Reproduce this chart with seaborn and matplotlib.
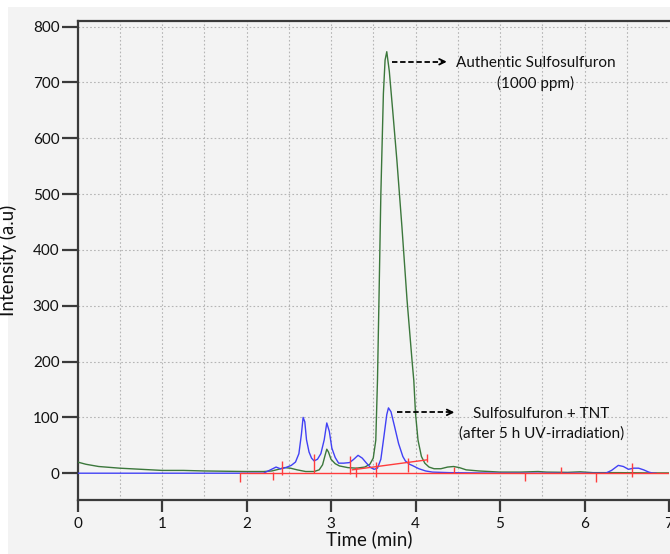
import matplotlib
matplotlib.use("Agg")
import matplotlib.pyplot as plt
from matplotlib.patches import Rectangle
import numpy as np
import pandas as pd
import seaborn as sns

# Chromatogram of authentic sulfosulfuron (green)
auth_time = [0.00, 0.10, 0.25, 0.50, 0.75, 1.00, 1.25, 1.50, 1.75, 2.00, 2.20, 2.30,
             2.38, 2.45, 2.52, 2.60, 2.70, 2.80, 2.86, 2.90, 2.93, 2.95, 2.97, 3.00,
             3.05, 3.10, 3.20, 3.30, 3.40, 3.46, 3.50, 3.53, 3.55, 3.57, 3.59, 3.62,
             3.64, 3.66, 3.69, 3.73, 3.78, 3.84, 3.90, 3.96, 3.98, 4.00, 4.03, 4.07,
             4.11, 4.16, 4.22, 4.30, 4.38, 4.45, 4.52, 4.60, 4.75, 5.00, 5.25, 5.45,
             5.55, 5.80, 5.95, 6.10, 6.40, 6.80, 7.00]
auth_int = [20, 16, 12, 9, 7, 5, 5, 4, 3.5, 3, 3, 4,
            7, 10, 9, 6, 3, 3, 6, 15, 32, 43, 38, 25,
            17, 13, 10, 9, 11, 16, 27, 59, 166, 330, 500, 680,
            740, 755, 720, 650, 560, 440, 310, 200, 166, 107, 59, 30,
            18, 11, 8, 8, 11, 12, 10, 6, 4, 2, 2, 3,
            2, 1.5, 2.5, 1, 1, 0.5, 0.5]

# Chromatogram of sulfosulfuron + TNT after 5 h UV irradiation (blue)
uv_time = [0.00, 2.00, 2.20, 2.27, 2.35, 2.40, 2.44, 2.48, 2.53, 2.58, 2.62, 2.65,
           2.67, 2.69, 2.71, 2.74, 2.77, 2.80, 2.84, 2.88, 2.92, 2.95, 2.98, 3.01,
           3.05, 3.09, 3.15, 3.22, 3.27, 3.32, 3.37, 3.42, 3.47, 3.51, 3.55, 3.59,
           3.63, 3.66, 3.68, 3.71, 3.75, 3.80, 3.85, 3.88, 3.93, 3.96, 4.00, 4.04,
           4.12, 4.20, 4.40, 5.00, 6.25, 6.32, 6.40, 6.46, 6.52, 6.58, 6.64, 6.70,
           6.76, 6.81, 6.85]
uv_int = [0, 0, 0, 5, 11, 8, 9, 11, 14, 20, 35, 70,
          100, 92, 60, 38, 27, 22, 25, 35, 60, 90, 75, 45,
          28, 18, 18, 19, 25, 32, 27, 18, 10, 7, 9, 25,
          70, 105, 117, 110, 85, 53, 30, 22, 16, 14, 11, 8,
          4, 2, 1, 0, 0, 5, 14, 12, 7, 9, 9, 6,
          2, 0, 0]

# Integration baselines and peak markers (red)
base_time = [1.92, 7.00]
base_int = [0, 0]
slope_time = [3.25, 4.14]
slope_int = [6, 24]
mark_time = [1.92, 2.31, 2.42, 2.80, 3.22, 3.30, 3.53, 3.91, 4.14, 4.46, 5.29, 5.72, 6.14, 6.56]
mark_low = [-15, -12, -3, 0, -2, -7, -7, 2, 20, 0, -14, 0, -15, -7]
mark_high = [0, 3, 22, 35, 30, 11, 20, 27, 34, 12, 0, 12, 0, 18]

x_ticks = [0, 1, 2, 3, 4, 5, 6, 7]
y_ticks = [0, 100, 200, 300, 400, 500, 600, 700, 800]

sns.set_style("ticks")
plt.rcParams["font.family"] = ["Lato", "DejaVu Sans"]

W, H = 670, 554
fig = plt.figure(figsize=(W / 100, H / 100), dpi=100)
fig.patch.set_facecolor("white")
fig.patches.append(Rectangle((8 / W, 0), 1, 1 - 7 / H, transform=fig.transFigure,
                             facecolor="#f3f3f3", edgecolor="none", zorder=-10))

left, right, bottom, top = 77.5 / W, 669 / W, 1 - 500 / H, 1 - 21 / H
ax = fig.add_axes([left, bottom, right - left, top - bottom])
ax.set_facecolor("#f3f3f3")

auth_df = pd.DataFrame({"time": auth_time, "intensity": auth_int})
uv_df = pd.DataFrame({"time": uv_time, "intensity": uv_int})

sns.lineplot(data=auth_df, x="time", y="intensity", ax=ax, color="#3b773b",
             linewidth=1.0, estimator=None, sort=False, zorder=3)
sns.lineplot(data=uv_df, x="time", y="intensity", ax=ax, color="#4141f5",
             linewidth=1.0, estimator=None, sort=False, zorder=4)
ax.plot(base_time, base_int, color="#ff3c3c", linewidth=1.0, zorder=5)
ax.plot(slope_time, slope_int, color="#ff3c3c", linewidth=1.0, zorder=5)
ax.vlines(mark_time, mark_low, mark_high, color="#ff3c3c", linewidth=1.0, zorder=5)

ax.set_xlim(0, 7)
ax.set_ylim(-48, 810)
ax.set_xticks(x_ticks)
ax.set_yticks(y_ticks)

# dotted grid: every 0.5 min and every 100 units
for gx in np.arange(0.5, 7.0, 0.5):
    ax.axvline(gx, color="#b5b5b5", linewidth=0.8, linestyle=(0, (1.5, 2)), zorder=1)
for gy in y_ticks[1:]:
    ax.axhline(gy, color="#b5b5b5", linewidth=0.8, linestyle=(0, (1.5, 2)), zorder=1)

for side in ["left", "bottom", "top"]:
    ax.spines[side].set_color("#3a3a3a")
    ax.spines[side].set_linewidth(1.6)
ax.spines["right"].set_visible(False)

ax.tick_params(axis="y", length=11.5, width=1.6, color="#3a3a3a", labelsize=11,
               pad=1.5, labelcolor="#111111")
ax.tick_params(axis="x", length=8.5, width=1.6, color="#3a3a3a", labelsize=11,
               pad=4, labelcolor="#111111")

ax.set_xlabel("Time (min)", fontsize=13.5, color="#111111")
ax.set_ylabel("Intensity (a.u)", fontsize=13.5, color="#111111")
ax.xaxis.set_label_coords(0.494, -0.063)
ax.yaxis.set_label_coords(-0.102, 0.5)


def dashed_arrow(x0, x1, y):
    ax.plot([x0, x1 - 0.02], [y, y], color="black", linewidth=1.3,
            linestyle=(0, (3, 1.5)), zorder=6)
    ax.annotate("", xy=(x1, y), xytext=(x1 - 0.06, y),
                arrowprops=dict(arrowstyle="->", color="black", lw=1.3,
                                mutation_scale=10, shrinkA=0, shrinkB=0))


dashed_arrow(3.72, 4.37, 737)
ax.text(5.42, 716, "Authentic Sulfosulfuron\n(1000 ppm)", ha="center", va="center",
        fontsize=11, color="#111111", linespacing=1.45)

dashed_arrow(3.78, 4.46, 109)
ax.text(5.49, 88, "Sulfosulfuron + TNT\n(after 5 h UV-irradiation)", ha="center",
        va="center", fontsize=11, color="#111111", linespacing=1.45)

fig.savefig("out.png", dpi=100, facecolor=fig.get_facecolor())
